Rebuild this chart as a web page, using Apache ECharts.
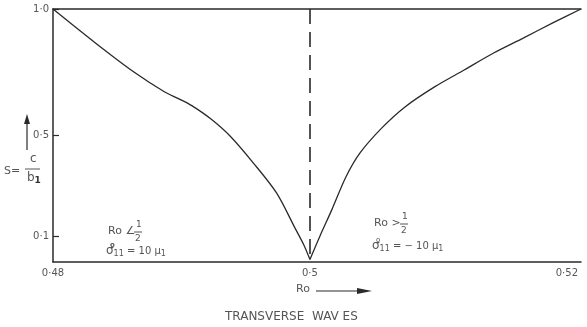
<!DOCTYPE html>
<html>
<head>
<meta charset="utf-8">
<script src="https://cdn.jsdelivr.net/npm/echarts@6/dist/echarts.min.js"></script>
<style>
html,body{margin:0;padding:0;background:#fff;}
#c{width:587px;height:327px;}
</style>
</head>
<body>
<div id="c"></div>
<script>
// Data
var leftRo = [0.48, 0.4833, 0.4863, 0.4887, 0.4898, 0.4908, 0.4923, 0.4938, 0.4956, 0.4974, 0.4988, 0.4995, 0.5];
var leftS  = [1.0, 0.866, 0.751, 0.672, 0.645, 0.618, 0.565, 0.497, 0.391, 0.273, 0.138, 0.07, 0.01];
var rightRo = [0.5, 0.5008, 0.5017, 0.5028, 0.5039, 0.5056, 0.5074, 0.5097, 0.512, 0.5143, 0.5166, 0.5189, 0.5211];
var rightS  = [0.01, 0.105, 0.206, 0.336, 0.431, 0.53, 0.613, 0.692, 0.759, 0.826, 0.885, 0.945, 1.0];
var xTicks = [0.48, 0.5, 0.52];
var yTicks = [0.1, 0.5, 1.0];
var dividerRo = 0.5;

function pairs(xs, ys){ return xs.map(function(x,i){ return [x, ys[i]]; }); }
function dotFmt(v){ return String(v === 1 ? '1.0' : v).replace('.', '·'); }

var FONT = "'Liberation Sans Narrow','DejaVu Sans',sans-serif";
var INK = '#2a2a2a';
var TXT = '#555';
var XMAX = 0.5211;

var chart = echarts.init(document.getElementById('c'), null, {renderer:'canvas'});
chart.setOption({
  backgroundColor: '#fff',
  animation: false,
  grid: {left: 53, right: 6, top: 9, bottom: 65},
  xAxis: [{
    type: 'value', min: 0.48, max: XMAX,
    axisLine: {show: true, lineStyle: {color: INK, width: 1.5}},
    axisTick: {show: false},
    splitLine: {show: false},
    axisLabel: {customValues: xTicks, formatter: dotFmt, color: TXT, fontFamily: FONT, fontSize: 10, margin: 6}
  }, {
    type: 'value', min: 0.48, max: XMAX, position: 'top',
    axisLine: {show: true, lineStyle: {color: INK, width: 1.5}},
    axisTick: {show: false}, axisLabel: {show: false}, splitLine: {show: false}
  }],
  yAxis: {
    type: 'value', min: 0, max: 1,
    axisLine: {show: true, lineStyle: {color: INK, width: 1.5}},
    axisTick: {show: true, inside: true, length: 6, customValues: yTicks, lineStyle: {color: INK, width: 1.2}},
    splitLine: {show: false},
    axisLabel: {customValues: yTicks, formatter: dotFmt, color: TXT, fontFamily: FONT, fontSize: 10, margin: 4}
  },
  series: [{
    type: 'line', data: pairs(leftRo, leftS), smooth: 0.3, showSymbol: false,
    lineStyle: {color: INK, width: 1.3},
    markLine: {
      silent: true, symbol: 'none', label: {show: false},
      lineStyle: {color: INK, width: 1.6, type: [15, 8]},
      data: [[{coord: [dividerRo, 1]}, {coord: [dividerRo, 0]}]]
    }
  }, {
    type: 'line', data: pairs(rightRo, rightS), smooth: 0.3, showSymbol: false,
    lineStyle: {color: INK, width: 1.3}
  }],
  graphic: [
    // y-axis title S = c / b1 with up arrow
    {type: 'line', shape: {x1: 27, y1: 150, x2: 27, y2: 122}, style: {stroke: INK, lineWidth: 1.2}},
    {type: 'polygon', shape: {points: [[27, 114], [24, 124], [30, 124]]}, style: {fill: INK}},
    {type: 'text', left: 4, top: 166, style: {text: 'S=', fill: TXT, font: '11px ' + FONT}},
    {type: 'text', left: 30, top: 153, style: {text: 'c', fill: TXT, font: '12px ' + FONT}},
    {type: 'line', shape: {x1: 25, y1: 169, x2: 40, y2: 169}, style: {stroke: TXT, lineWidth: 1}},
    {type: 'text', left: 27, top: 172, style: {text: '{a|b}{b|1}', rich: {a: {fill: TXT, font: '12px ' + FONT}, b: {fill: '#333', font: 'bold 9px ' + FONT, padding: [6,0,0,0]}}}},
    // left annotation
    {type: 'text', left: 108, top: 226, style: {text: 'Ro ∠', fill: TXT, font: '11px ' + FONT}},
    {type: 'text', left: 136, top: 220, style: {text: '1', fill: TXT, font: '9px ' + FONT}},
    {type: 'line', shape: {x1: 134, y1: 232, x2: 142, y2: 232}, style: {stroke: TXT, lineWidth: 1}},
    {type: 'text', left: 135, top: 234, style: {text: '2', fill: TXT, font: '9px ' + FONT}},
    {type: 'text', left: 106, top: 245, style: {text: '{s|σ}{sub|11}{t| = 10 μ}{sub|1}', rich: {
      s: {fill: TXT, font: '12px ' + FONT}, sub: {fill: TXT, font: '8px ' + FONT, padding: [6,0,0,0]}, t: {fill: TXT, font: '10px ' + FONT}}}},
    {type: 'text', left: 110, top: 242, style: {text: 'o', fill: TXT, font: 'bold 7px ' + FONT}},
    // right annotation
    {type: 'text', left: 374, top: 218, style: {text: 'Ro >', fill: TXT, font: '11px ' + FONT}},
    {type: 'text', left: 402, top: 212, style: {text: '1', fill: TXT, font: '9px ' + FONT}},
    {type: 'line', shape: {x1: 400, y1: 224, x2: 408, y2: 224}, style: {stroke: TXT, lineWidth: 1}},
    {type: 'text', left: 401, top: 226, style: {text: '2', fill: TXT, font: '9px ' + FONT}},
    {type: 'text', left: 372, top: 240, style: {text: '{s|σ}{sub|11}{t| = − 10 μ}{sub|1}', rich: {
      s: {fill: TXT, font: '12px ' + FONT}, sub: {fill: TXT, font: '8px ' + FONT, padding: [6,0,0,0]}, t: {fill: TXT, font: '10px ' + FONT}}}},
    {type: 'text', left: 376, top: 237, style: {text: 'o', fill: TXT, font: '7px ' + FONT}},
    // x-axis title
    {type: 'text', left: 296, top: 284, style: {text: 'Ro', fill: TXT, font: '11px ' + FONT}},
    {type: 'line', shape: {x1: 316, y1: 291, x2: 360, y2: 291}, style: {stroke: INK, lineWidth: 1.2}},
    {type: 'polygon', shape: {points: [[372, 291], [357, 288], [357, 294]]}, style: {fill: INK}},
    {type: 'text', left: 225, top: 311, style: {text: 'TRANSVERSE  WAV ES', fill: TXT, font: '12px ' + FONT, letterSpacing: 1.6}}
  ]
});
</script>
</body>
</html>
